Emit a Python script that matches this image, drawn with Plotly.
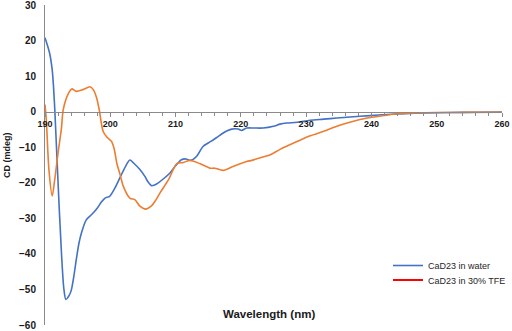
import plotly.graph_objects as go

# CaD23 in water (blue)
water_wl = [190.0, 190.7, 191.1, 191.3, 191.5, 192.0, 192.5, 192.9, 193.2, 193.6, 194.0, 194.4,
            194.8, 195.2, 195.6, 196.3, 197.1, 197.9, 198.6, 199.2, 199.9, 200.7, 201.5, 202.3,
            203.0, 203.6, 204.5, 205.3, 205.8, 206.3, 206.8, 207.3, 208.2, 209.1, 210.0, 210.9,
            211.6, 212.3, 213.2, 214.2, 215.0, 215.8, 216.5, 217.3, 218.0, 218.6, 219.6, 220.1,
            220.9, 222.0, 223.4, 225.0, 226.0, 227.0, 228.6, 230.6, 232.7, 234.7, 236.7, 239.8,
            242.4, 245.0, 248.0, 252.0, 256.0, 260.0]
water_cd = [20.8, 16.5, 11.8, 7.1, 0.6, -20.0, -39.0, -50.0, -52.8, -52.0, -50.4, -46.5,
            -41.5, -37.0, -34.0, -30.5, -29.0, -27.4, -25.5, -24.3, -23.8, -21.5, -18.5, -15.5,
            -13.6, -14.5, -16.2, -18.2, -19.8, -20.8, -20.6, -20.1, -18.8, -17.3, -15.2, -13.5,
            -13.3, -13.7, -12.6, -9.8, -8.8, -7.9, -7.0, -6.0, -5.3, -4.9, -4.9, -5.3,
            -4.6, -4.6, -4.6, -4.1, -3.5, -3.2, -3.0, -2.4, -2.1, -1.8, -1.5, -1.1,
            -0.8, -0.55, -0.35, -0.25, -0.15, -0.1]

# CaD23 in 30% TFE (orange)
tfe_wl = [190.0, 190.2, 190.6, 191.1, 191.5, 192.0, 192.5, 192.8, 193.5, 194.1, 194.8, 195.8,
          196.9, 197.4, 197.9, 198.3, 198.9, 199.5, 200.2, 200.6, 201.0, 201.5, 202.0, 203.0,
          203.8, 204.5, 205.4, 206.3, 207.0, 207.6, 208.9, 210.2, 211.2, 212.2, 213.7, 215.3,
          216.0, 217.3, 218.8, 220.9, 221.7, 222.9, 224.5, 226.0, 228.6, 230.6, 232.7, 234.7,
          236.7, 239.3, 241.9, 244.0, 247.0, 250.0, 255.0, 260.0]
tfe_cd = [2.0, -2.3, -16.3, -23.7, -19.0, -11.6, -5.0, 0.6, 4.8, 6.4, 5.7, 6.2,
          7.0, 6.2, 3.9, 0.6, -5.5, -7.2, -8.4, -10.5, -14.5, -17.7, -21.0, -24.3,
          -24.8, -26.5, -27.4, -26.5, -24.8, -22.9, -19.2, -14.6, -14.3, -13.7, -14.6, -15.9,
          -15.9, -16.5, -15.4, -14.0, -13.7, -13.0, -12.1, -10.6, -8.4, -6.8, -5.5, -4.1,
          -3.0, -1.8, -1.1, -0.6, -0.35, -0.25, -0.2, -0.15]

x_ticks = [190, 200, 210, 220, 230, 240, 250, 260]
y_ticks = [30, 20, 10, 0, -10, -20, -30, -40, -50, -60]
y_range = [-60, 30]

FONT = "Liberation Sans, Arial, sans-serif"
AXIS_COLOR = "#8a8a8a"
PLOT_L, PLOT_T, PLOT_W, PLOT_H = 45, 5, 457, 320


def px_x(px):
    return (px - PLOT_L) / PLOT_W


def px_y(py):
    return (PLOT_T + PLOT_H - py) / PLOT_H


fig = go.Figure()
fig.add_trace(go.Scatter(x=water_wl, y=water_cd, mode="lines", name="CaD23 in water",
                         legend="legend",
                         line=dict(color="#4472C4", width=1.6, shape="spline", smoothing=0.8)))
fig.add_trace(go.Scatter(x=tfe_wl, y=tfe_cd, mode="lines", name="CaD23 in 30% TFE",
                         showlegend=False,
                         line=dict(color="#ED7D31", width=1.6, shape="spline", smoothing=0.8)))
# legend swatch for the TFE series (shown red in the original legend)
fig.add_trace(go.Scatter(x=[None], y=[None], mode="lines", name="CaD23 in 30% TFE",
                         legend="legend2", line=dict(color="#FF0000", width=2)))

leg_common = dict(xanchor="left", yanchor="middle",
                  font=dict(size=9, family=FONT, color="#262626"),
                  bgcolor="rgba(0,0,0,0)", borderwidth=0)

fig.update_layout(
    width=512, height=331,
    margin=dict(l=PLOT_L, r=512 - PLOT_L - PLOT_W, t=PLOT_T, b=331 - PLOT_T - PLOT_H,
                autoexpand=False),
    paper_bgcolor="white", plot_bgcolor="white",
    font=dict(family=FONT, color="#1a1a1a"),
    showlegend=True,
    legend=dict(x=px_x(388), y=px_y(265.5), **leg_common),
    legend2=dict(x=px_x(388), y=px_y(280), **leg_common),
    xaxis=dict(range=[190, 260], tickvals=x_ticks, ticktext=[str(v) for v in x_ticks],
               anchor="free", position=(0 - y_range[0]) / (y_range[1] - y_range[0]),
               showline=True, linecolor=AXIS_COLOR, linewidth=1,
               ticks="outside", ticklen=4, tickcolor=AXIS_COLOR, tickwidth=1,
               minor=dict(dtick=2, ticks="outside", ticklen=3, tickcolor=AXIS_COLOR),
               showgrid=False, zeroline=False, automargin=False,
               ticklabeloverflow="allow",
               tickfont=dict(size=9, family=FONT, weight="bold", color="#1a1a1a")),
    yaxis=dict(range=y_range, tickvals=y_ticks, domain=[0, 1],
               showline=True, linecolor=AXIS_COLOR, linewidth=1,
               ticks="", ticklabelstandoff=6, showgrid=False, zeroline=False,
               automargin=False, ticklabeloverflow="allow",
               tickfont=dict(size=10, family=FONT, weight="bold", color="#1a1a1a")),
    annotations=[
        dict(text="<b>Wavelength (nm)</b>", xref="paper", yref="paper",
             x=px_x(269), y=px_y(314), xanchor="center", yanchor="middle",
             showarrow=False, font=dict(size=11.5, family=FONT, color="#1a1a1a")),
        dict(text="<b>CD (mdeg)</b>", xref="paper", yref="paper", textangle=-90,
             x=px_x(7), y=px_y(155), xanchor="center", yanchor="middle",
             showarrow=False, font=dict(size=9, family=FONT, color="#1a1a1a")),
    ],
)

fig.write_html("out.html", config={"displayModeBar": False},
               post_script="document.body.style.margin='0';document.body.style.overflow='hidden';")
